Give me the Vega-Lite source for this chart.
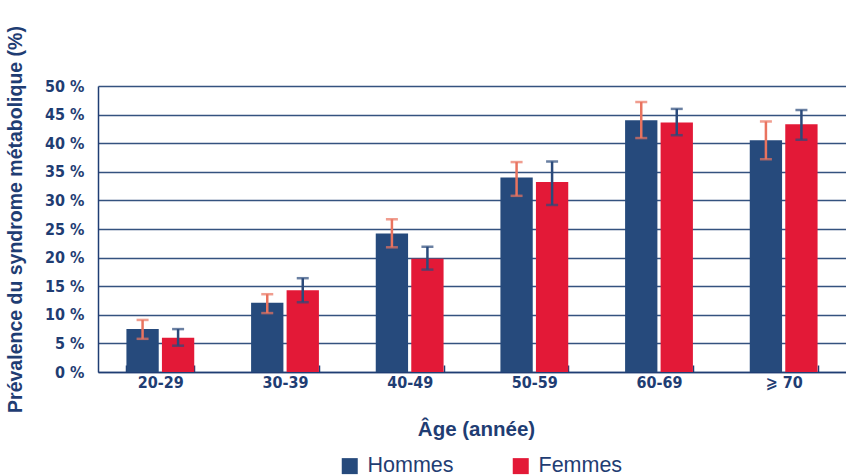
{
  "$schema": "https://vega.github.io/schema/vega-lite/v6.json",
  "width": 748,
  "height": 286,
  "autosize": {"type": "none"},
  "padding": {"left": 98, "top": 86, "right": 0, "bottom": 104},
  "background": "white",
  "config": {
    "view": {"stroke": null},
    "font": "Liberation Sans",
    "axisY": {
      "values": [0, 5, 10, 15, 20, 25, 30, 35, 40, 45, 50],
      "labelOverlap": false,
      "labelExpr": "datum.value + ' %'",
      "grid": true,
      "gridColor": "#34527f",
      "gridWidth": 1.3,
      "ticks": false,
      "domainColor": "#1f3d73",
      "domainWidth": 1.5,
      "labelFont": "'DejaVu Sans Condensed', 'Roboto Condensed', sans-serif",
      "labelFontWeight": "bold",
      "labelFontSize": 16,
      "labelColor": "#1f3d73",
      "labelPadding": 14,
      "titleFont": "Liberation Sans",
      "titleFontWeight": "bold",
      "titleFontSize": 19.5,
      "titleColor": "#1f3d73",
      "titleX": -83,
      "titleY": 133,
      "titleBaseline": "middle"
    }
  },
  "data": {
    "values": [
      {"age": "20-29", "sexe": "Hommes", "valeur": 7.5, "bas": 5.8, "haut": 9.1},
      {"age": "20-29", "sexe": "Femmes", "valeur": 6.0, "bas": 4.6, "haut": 7.5},
      {"age": "30-39", "sexe": "Hommes", "valeur": 12.1, "bas": 10.3, "haut": 13.6},
      {"age": "30-39", "sexe": "Femmes", "valeur": 14.3, "bas": 12.2, "haut": 16.4},
      {"age": "40-49", "sexe": "Hommes", "valeur": 24.2, "bas": 21.8, "haut": 26.7},
      {"age": "40-49", "sexe": "Femmes", "valeur": 19.8, "bas": 17.9, "haut": 21.9},
      {"age": "50-59", "sexe": "Hommes", "valeur": 34.0, "bas": 30.8, "haut": 36.7},
      {"age": "50-59", "sexe": "Femmes", "valeur": 33.2, "bas": 29.2, "haut": 36.8},
      {"age": "60-69", "sexe": "Hommes", "valeur": 44.0, "bas": 40.9, "haut": 47.2},
      {"age": "60-69", "sexe": "Femmes", "valeur": 43.6, "bas": 41.4, "haut": 46.0},
      {"age": "⩾ 70", "sexe": "Hommes", "valeur": 40.5, "bas": 37.2, "haut": 43.8},
      {"age": "⩾ 70", "sexe": "Femmes", "valeur": 43.3, "bas": 40.6, "haut": 45.8}
    ]
  },
  "encoding": {
    "x": {
      "field": "age",
      "type": "nominal",
      "sort": null,
      "scale": {"paddingInner": 0.456, "paddingOuter": 0.228},
      "axis": {
        "tickBand": "extent",
        "ticks": true,
        "tickSize": -7,
        "tickColor": "#1f3d73",
        "tickWidth": 1.5,
        "domainColor": "#1f3d73",
        "domainWidth": 1.5,
        "labelAngle": 0,
        "labelFont": "'DejaVu Sans Condensed', 'Roboto Condensed', sans-serif",
        "labelFontWeight": "bold",
        "labelFontSize": 16,
        "labelColor": "#1f3d73",
        "labelPadding": 9,
        "title": "Âge (année)",
        "titleFont": "Liberation Sans",
        "titleFontWeight": "bold",
        "titleFontSize": 20.5,
        "titleColor": "#1f3d73",
        "titleX": 378,
        "titleY": 63,
        "titleBaseline": "alphabetic"
      }
    },
    "xOffset": {
      "field": "sexe",
      "type": "nominal",
      "sort": ["Hommes", "Femmes"],
      "scale": {"paddingInner": 0.09, "paddingOuter": 0}
    }
  },
  "layer": [
    {
      "mark": {"type": "bar"},
      "encoding": {
        "y": {
          "field": "valeur",
          "type": "quantitative",
          "scale": {"domain": [0, 50], "nice": false},
          "title": "Prévalence du syndrome métabolique (%)"
        },
        "color": {
          "field": "sexe",
          "type": "nominal",
          "scale": {"domain": ["Hommes", "Femmes"], "range": ["#264a7c", "#e31937"]},
          "legend": {
            "orient": "none",
            "legendX": 241,
            "legendY": 369,
            "direction": "horizontal",
            "title": null,
            "padding": 0,
            "symbolType": "square",
            "symbolSize": 256,
            "symbolStrokeWidth": 0,
            "symbolOpacity": 1,
            "labelFont": "Liberation Sans",
            "labelFontSize": 21.5,
            "labelColor": "#1f3d73",
            "labelOffset": 7,
            "columnPadding": 56
          }
        }
      }
    },
    {
      "mark": {"type": "rule", "strokeWidth": 2.5},
      "encoding": {
        "y": {"field": "bas", "type": "quantitative", "title": "Prévalence du syndrome métabolique (%)"},
        "y2": {"field": "haut"},
        "color": {
          "field": "sexe",
          "type": "nominal",
          "scale": {"domain": ["Hommes", "Femmes"], "range": ["#e9735f", "#2b4a7b"]},
          "legend": null
        }
      }
    },
    {
      "mark": {"type": "tick", "orient": "horizontal", "size": 12, "thickness": 2.5},
      "encoding": {
        "y": {"field": "bas", "type": "quantitative", "title": "Prévalence du syndrome métabolique (%)"},
        "color": {
          "field": "sexe",
          "type": "nominal",
          "scale": {"domain": ["Hommes", "Femmes"], "range": ["#e9735f", "#2b4a7b"]},
          "legend": null
        }
      }
    },
    {
      "mark": {"type": "tick", "orient": "horizontal", "size": 12, "thickness": 2.5},
      "encoding": {
        "y": {"field": "haut", "type": "quantitative", "title": "Prévalence du syndrome métabolique (%)"},
        "color": {
          "field": "sexe",
          "type": "nominal",
          "scale": {"domain": ["Hommes", "Femmes"], "range": ["#e9735f", "#2b4a7b"]},
          "legend": null
        }
      }
    }
  ],
  "resolve": {"scale": {"color": "independent"}}
}
